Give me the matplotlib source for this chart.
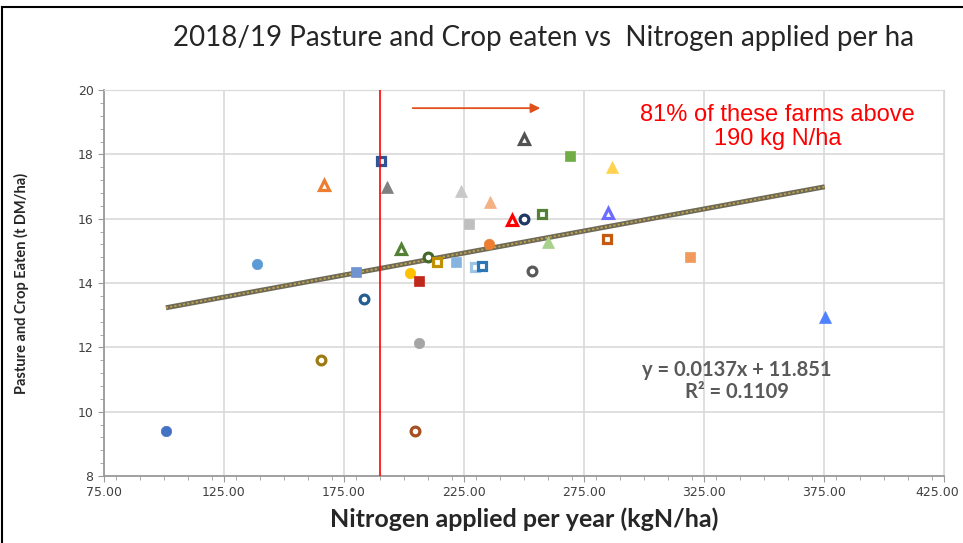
import numpy as np
import matplotlib
matplotlib.use("Agg")
import matplotlib.pyplot as plt
import matplotlib.transforms as mtransforms
from matplotlib.ticker import MultipleLocator, FormatStrFormatter
from matplotlib.lines import Line2D

# Data: N applied (kg N/ha) vs pasture & crop eaten (t DM/ha)
nitrogen = [100.8, 138.6, 166.8, 180.0, 190.3, 193.0, 183.3, 165.3,
            250.1, 269.2, 286.8, 223.6, 235.8, 244.9, 250.1, 257.6,
            285.1, 227.2, 198.6, 235.4, 259.9, 284.6, 209.9, 213.6,
            221.7, 229.6, 232.4, 253.3, 202.5, 206.4, 206.4, 204.6,
            319.2, 375.4]
eaten = [9.40, 14.58, 17.05, 14.35, 17.80, 17.00, 13.49, 11.60,
         18.47, 17.95, 17.60, 16.86, 16.53, 15.96, 15.98, 16.14,
         16.19, 15.83, 15.06, 15.23, 15.27, 15.37, 14.80, 14.64,
         14.66, 14.51, 14.54, 14.37, 14.32, 14.06, 12.13, 9.40,
         14.82, 12.95]

# Marker style per farm
shapes = ['o', 'o', '^', 's', 's', '^', 'o', 'o',
          '^', 's', '^', '^', '^', '^', 'o', 's',
          '^', 's', '^', 'o', '^', 's', 'o', 's',
          's', 's', 's', 'o', 'o', 's', 'o', 'o',
          's', '^']
colors = ['#4472C4', '#5B9BD5', '#ED7D31', '#6F94D0', '#2E5597', '#7F7F7F', '#255E91', '#9E7A12',
          '#525252', '#70AD47', '#FFD34F', '#C9C9C9', '#F4B183', '#FF0000', '#203864', '#548235',
          '#6B6BFF', '#BFBFBF', '#548235', '#ED7D31', '#A9D18E', '#C55A11', '#43682B', '#BF9000',
          '#86B4E0', '#9DC3E6', '#2E75B6', '#595959', '#FFC000', '#C0281C', '#A5A5A5', '#A5501E',
          '#F19A5C', '#4F81FF']
filled = [True, True, False, True, False, True, False, False,
          False, True, True, True, True, False, False, False,
          False, True, False, True, True, False, False, False,
          True, False, False, False, True, True, True, False,
          True, True]

x_ticks = [75, 125, 175, 225, 275, 325, 375, 425]
slope, intercept = 0.0137, 11.851
trend_x = [min(nitrogen), max(nitrogen)]
threshold = 190

fig = plt.figure(figsize=(9.63, 5.43), dpi=100)
ax = fig.add_axes([0.108, 0.1234, 0.872, 0.7106])

ax.set_xlim(75, 425)
ax.set_ylim(8, 20)
ax.set_xticks(x_ticks)
ax.xaxis.set_minor_locator(MultipleLocator(10))
ax.yaxis.set_major_locator(MultipleLocator(2))
ax.yaxis.set_minor_locator(MultipleLocator(0.4))
ax.xaxis.set_major_formatter(FormatStrFormatter('%.2f'))
ax.grid(True, which='major', color='#d9d9d9', linewidth=1.2, zorder=0)
ax.set_axisbelow(True)
for side in ['top', 'right']:
    ax.spines[side].set_color('#d9d9d9')
for side in ['left', 'bottom']:
    ax.spines[side].set_color('#9a9a9a')
    ax.spines[side].set_linewidth(1.3)
ax.tick_params(which='both', colors='#9a9a9a', direction='out')
ax.tick_params(which='major', length=4, labelsize=9, labelcolor='#404040')
ax.tick_params(which='minor', length=3)

# nudge the last x label left so it stays inside the picture
last = ax.xaxis.get_major_ticks()[-1].label1
last.set_transform(last.get_transform() +
                   mtransforms.ScaledTranslation(-6 / 100, 0, fig.dpi_scale_trans))

# trend line
ty = [slope * v + intercept for v in trend_x]
ax.plot(trend_x, ty, color='#6e6a58', lw=3.6, solid_capstyle='butt', zorder=2)
ax.plot(trend_x, ty, color='#c2a54a', lw=1.3, linestyle=(0, (1.2, 1.2)), zorder=2)

# farms
for xv, yv, m, c, f in zip(nitrogen, eaten, shapes, colors, filled):
    ms = 8 if m == '^' else 7.5
    if f:
        ax.plot(xv, yv, marker=m, color=c, markersize=ms, markeredgewidth=0.5,
                markeredgecolor=c, linestyle='none', zorder=3)
    else:
        ax.plot(xv, yv, marker=m, markerfacecolor='white', markeredgecolor=c,
                markersize=ms - 1.2, markeredgewidth=2.3, linestyle='none', zorder=3)

ax.axvline(threshold, color='#ff0000', lw=1.2, zorder=4)
ax.annotate('', xy=(258, 19.44), xytext=(202.5, 19.44),
            arrowprops=dict(arrowstyle='-|>', color='#E0501A', lw=1.3,
                            mutation_scale=14))
ax.text(355.8, 18.85, '81% of these farms above\n190 kg N/ha', color='#ff0000',
        fontsize=17, family='Liberation Sans', ha='center', va='center',
        linespacing=1.15)
ax.text(338.7, 10.95, 'y = 0.0137x + 11.851\nR² = 0.1109', color='#595959',
        fontsize=14.5, fontweight='bold', family='Lato', ha='center', va='center',
        linespacing=1.15)

ax.set_xlabel('Nitrogen applied per year (kgN/ha)', fontsize=18, fontweight='bold',
              family='Lato', color='#262626', labelpad=6)
ax.set_ylabel('Pasture and Crop Eaten (t DM/ha)', fontsize=10.5, fontweight='bold',
              family='Lato', color='#262626')
ax.yaxis.set_label_coords(-0.089, 0.5)
fig.text(0.564, 0.93, '2018/19 Pasture and Crop eaten vs  Nitrogen applied per ha',
         fontsize=20, family='Lato', color='#262626', ha='center', va='center')

# slide frame (top and left edges only)
fig.add_artist(Line2D([0.002, 0.002], [0.0, 0.987], transform=fig.transFigure,
                      color='black', lw=1.5))
fig.add_artist(Line2D([0.002, 1.0], [0.987, 0.987], transform=fig.transFigure,
                      color='black', lw=1.5))

fig.savefig('out.png', dpi=100)
